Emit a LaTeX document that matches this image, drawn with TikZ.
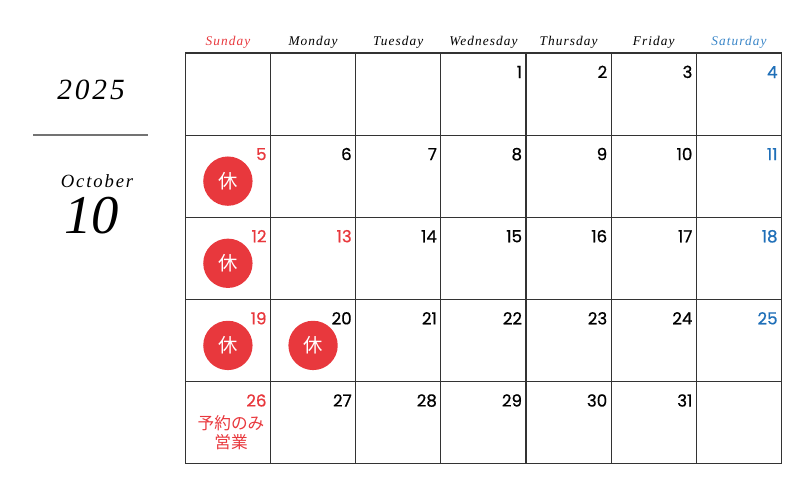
\documentclass[tikz,border=0pt]{standalone}
\usepackage{fontspec}
\setmainfont{Liberation Serif}
\newfontfamily\numfont[FakeBold=0.7]{Poppins}
\newfontfamily\spacedfont[LetterSpace=10]{Liberation Serif}
\newfontfamily\namefont[LetterSpace=8]{Liberation Serif}
\newfontfamily\cjk{Noto Sans CJK JP}
\usetikzlibrary{positioning,calc}
\definecolor{calred}{HTML}{E8383D}
\definecolor{calblue}{HTML}{1F6FB8}
\definecolor{nameblue}{HTML}{3A86C8}
\definecolor{gridgray}{HTML}{333333}
\tikzset{
  dayname/.style={font=\namefont\itshape\fontsize{10}{12}\selectfont, anchor=base},
  daynum/.style={font=\numfont\fontsize{12.5}{14}\selectfont, anchor=base east, inner sep=0pt},
  holiday/.style={circle, fill=calred, minimum size=37pt, inner sep=0pt, text=white, font=\cjk\fontsize{14.5}{14.5}\selectfont},
  gridline/.style={draw=gridgray, line width=0.9pt},
}
\begin{document}
\begin{tikzpicture}[x=0.75pt,y=-0.75pt]
\useasboundingbox (0,0) rectangle (800,500);
% month block on the left
\node[font=\spacedfont\itshape\fontsize{22}{24}\selectfont, anchor=base] (year) at (91,99) {2025};
\draw[draw=black!55, line width=1pt] (33,135) coordinate (ruleL) -- (148,135) coordinate (ruleR);
\node[font=\spacedfont\itshape\fontsize{14}{16}\selectfont, anchor=base] (month) at (97,187) {October};
\node[font=\itshape\fontsize{41}{44}\selectfont, anchor=base] (monthnum) at (92,233) {10};
% grid
\foreach \i in {0,...,7}
  \draw[gridline] (185.3+\i*85.17,53) -- (185.3+\i*85.17,463.7);
\foreach \j in {0,...,5}
  \draw[gridline] (185.3,53+\j*82.14) -- (781.5,53+\j*82.14);
% weekday names
\foreach \n/\c/\col in {Sunday/0/calred, Monday/1/black, Tuesday/2/black, Wednesday/3/black, Thursday/4/black, Friday/5/black, Saturday/6/nameblue}
  \node[dayname, text=\col] (\n) at (185.3+\c*85.17+42.6,45) {\n};
% day numbers
\foreach \d in {1,...,31}{
  \pgfmathtruncatemacro{\c}{mod(\d+2,7)}
  \pgfmathtruncatemacro{\r}{(\d+2)/7}
  \def\col{black}
  \ifnum\c=0 \def\col{calred}\fi
  \ifnum\c=6 \def\col{calblue}\fi
  \ifnum\d=13 \def\col{calred}\fi
  \node[daynum, text=\col] (d\d) at (185.3+\c*85.17+81.5,53+\r*82.14+25) {\d};
}
% closed days
\foreach \c/\r/\d in {0/1/5, 0/2/12, 0/3/19, 1/3/20}
  \node[holiday] (h\d) at (185.3+\c*85.17+42.6,53+\r*82.14+46) {休};
\node[text=calred, font=\cjk\fontsize{12.5}{14.5}\selectfont, align=center, inner sep=0pt] (note26) at (231,432.5) {予約のみ\\営業};
\end{tikzpicture}
\end{document}
